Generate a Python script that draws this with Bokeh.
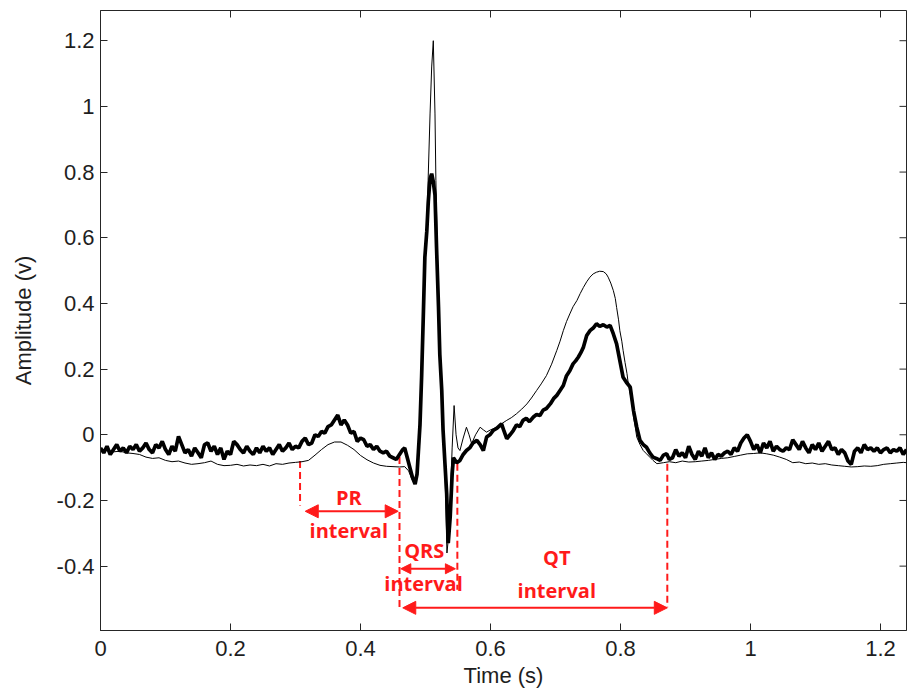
import math
from bokeh.plotting import figure
from bokeh.models import FixedTicker, Range1d, Arrow, NormalHead, ColumnDataSource
from bokeh.core.properties import value
from bokeh.embed import file_html
from bokeh.resources import INLINE

# ---------------- data: noisy (thick) ECG beat ----------------
t_thick = [
    0.000, 0.005, 0.010, 0.015, 0.020, 0.025, 0.030, 0.035, 0.040, 0.045,
    0.050, 0.055, 0.060, 0.065, 0.070, 0.075, 0.080, 0.085, 0.090, 0.095,
    0.100, 0.105, 0.110, 0.115, 0.120, 0.125, 0.130, 0.135, 0.140, 0.145,
    0.150, 0.155, 0.160, 0.165, 0.170, 0.175, 0.180, 0.185, 0.190, 0.195,
    0.200, 0.205, 0.210, 0.215, 0.220, 0.225, 0.230, 0.235, 0.240, 0.245,
    0.250, 0.255, 0.260, 0.265, 0.270, 0.275, 0.280, 0.285, 0.290, 0.295,
    0.300, 0.305, 0.310, 0.315, 0.320, 0.325, 0.330, 0.335, 0.340, 0.345,
    0.350, 0.355, 0.360, 0.365, 0.370, 0.375, 0.380, 0.385, 0.390, 0.395,
    0.400, 0.405, 0.410, 0.415, 0.420, 0.425, 0.430, 0.435, 0.440, 0.445,
    0.450, 0.455, 0.460, 0.465, 0.468, 0.472, 0.476, 0.480, 0.484, 0.487,
    0.4915, 0.494, 0.4966, 0.499, 0.502, 0.5043, 0.507, 0.5095, 0.512, 0.5146,
    0.517, 0.520, 0.522, 0.525, 0.527, 0.530, 0.5326, 0.535, 0.538, 0.541,
    0.543, 0.548, 0.553, 0.558, 0.563, 0.568, 0.573, 0.579, 0.584, 0.589,
    0.594, 0.599, 0.604, 0.610, 0.617, 0.621, 0.625, 0.630, 0.635, 0.640,
    0.645, 0.650, 0.655, 0.660, 0.666, 0.671, 0.676, 0.681, 0.686, 0.692,
    0.697, 0.702, 0.707, 0.712, 0.717, 0.722, 0.727, 0.731, 0.735, 0.739,
    0.743, 0.748, 0.753, 0.758, 0.763, 0.768, 0.7735, 0.779, 0.784, 0.789,
    0.794, 0.799, 0.804, 0.809, 0.815, 0.820, 0.825, 0.830, 0.835, 0.840,
    0.845, 0.850, 0.855, 0.861, 0.866, 0.871, 0.875, 0.880, 0.885, 0.890,
    0.895, 0.900, 0.905, 0.910, 0.915, 0.920, 0.925, 0.930, 0.935, 0.940,
    0.945, 0.950, 0.955, 0.960, 0.965, 0.970, 0.975, 0.980, 0.985, 0.990,
    0.995, 1.000, 1.005, 1.010, 1.015, 1.020, 1.025, 1.030, 1.035, 1.040,
    1.045, 1.050, 1.055, 1.060, 1.065, 1.070, 1.075, 1.080, 1.085, 1.090,
    1.095, 1.100, 1.105, 1.110, 1.115, 1.120, 1.125, 1.130, 1.135, 1.140,
    1.145, 1.150, 1.155, 1.160, 1.165, 1.170, 1.175, 1.180, 1.185, 1.190,
    1.195, 1.200, 1.205, 1.210, 1.215, 1.220, 1.225, 1.230, 1.235, 1.240,
]
v_thick = [
    -0.040, -0.055, -0.035, -0.060, -0.045, -0.030, -0.050, -0.040, -0.055, -0.035,
    -0.045, -0.030, -0.050, -0.040, -0.025, -0.045, -0.055, -0.030, -0.040, -0.020,
    -0.045, -0.060, -0.035, -0.050, -0.005, -0.030, -0.055, -0.045, -0.065, -0.040,
    -0.055, -0.070, -0.030, -0.025, -0.050, -0.035, -0.060, -0.040, -0.075, -0.050,
    -0.060, -0.020, -0.030, -0.045, -0.055, -0.035, -0.050, -0.060, -0.040, -0.055,
    -0.035, -0.050, -0.040, -0.060, -0.045, -0.030, -0.050, -0.040, -0.025, -0.045,
    -0.035, -0.040, -0.020, -0.010, -0.030, -0.025, 0.000, -0.005, 0.010, 0.005,
    0.025, 0.030, 0.045, 0.060, 0.030, 0.045, 0.030, 0.005, 0.010, -0.020,
    -0.010, -0.015, -0.035, -0.030, -0.045, -0.035, -0.050, -0.055, -0.050, -0.065,
    -0.070, -0.075, -0.060, -0.045, -0.040, -0.070, -0.100, -0.130, -0.150, -0.120,
    0.030, 0.175, 0.360, 0.540, 0.620, 0.710, 0.780, 0.795, 0.770, 0.730,
    0.570, 0.390, 0.245, 0.135, 0.015, -0.090, -0.180, -0.330, -0.250, -0.120,
    -0.070, -0.085, -0.078, -0.060, -0.048, -0.040, -0.025, -0.017, -0.030, -0.048,
    -0.007, 0.000, 0.013, 0.020, 0.033, 0.010, -0.012, 0.000, 0.013, 0.030,
    0.025, 0.044, 0.050, 0.040, 0.054, 0.062, 0.059, 0.075, 0.080, 0.094,
    0.110, 0.120, 0.135, 0.150, 0.180, 0.195, 0.216, 0.225, 0.236, 0.250,
    0.267, 0.302, 0.317, 0.325, 0.338, 0.330, 0.335, 0.328, 0.333, 0.307,
    0.277, 0.226, 0.175, 0.160, 0.145, 0.074, 0.023, -0.017, -0.030, -0.038,
    -0.055, -0.068, -0.072, -0.078, -0.062, -0.058, -0.075, -0.070, -0.045, -0.065,
    -0.055, -0.070, -0.035, -0.060, -0.075, -0.050, -0.065, -0.040, -0.070, -0.055,
    -0.075, -0.060, -0.065, -0.055, -0.050, -0.060, -0.040, -0.050, -0.025, -0.010,
    0.000, -0.020, -0.045, -0.030, -0.055, -0.025, -0.040, -0.020, -0.050, -0.035,
    -0.045, -0.050, -0.040, -0.045, -0.015, -0.030, -0.045, -0.020, -0.040, -0.055,
    -0.030, -0.045, -0.025, -0.050, -0.035, -0.020, -0.045, -0.040, -0.060, -0.045,
    -0.055, -0.080, -0.090, -0.050, -0.040, -0.055, -0.030, -0.045, -0.040, -0.050,
    -0.040, -0.055, -0.045, -0.040, -0.055, -0.045, -0.050, -0.040, -0.060, -0.045,
]

# ---------------- data: clean (thin) ECG beat ----------------
t_thin = [
    0.00, 0.01, 0.02, 0.03, 0.04, 0.05, 0.06, 0.07, 0.08, 0.09,
    0.10, 0.11, 0.12, 0.13, 0.14, 0.15, 0.16, 0.17, 0.18, 0.19,
    0.20, 0.21, 0.22, 0.23, 0.24, 0.25, 0.26, 0.27, 0.28, 0.29,
    0.30, 0.31, 0.32, 0.33, 0.34, 0.35, 0.36, 0.37, 0.38, 0.39,
    0.40, 0.41, 0.42, 0.43, 0.44, 0.45, 0.46, 0.468, 0.474, 0.479,
    0.484, 0.487, 0.4915, 0.494, 0.4966, 0.499, 0.502, 0.504, 0.507, 0.5095,
    0.512, 0.5146, 0.516, 0.518, 0.520, 0.522, 0.525, 0.527, 0.530, 0.533,
    0.536, 0.539, 0.541, 0.544, 0.547, 0.550, 0.553, 0.558, 0.563, 0.567,
    0.571, 0.577, 0.584, 0.589, 0.594, 0.600, 0.610, 0.618, 0.625, 0.632,
    0.640, 0.648, 0.656, 0.663, 0.671, 0.678, 0.686, 0.694, 0.702, 0.707,
    0.712, 0.717, 0.722, 0.727, 0.733, 0.738, 0.743, 0.748, 0.753, 0.758,
    0.763, 0.768, 0.7735, 0.778, 0.781, 0.785, 0.789, 0.792, 0.794, 0.797,
    0.799, 0.802, 0.804, 0.807, 0.810, 0.812, 0.815, 0.818, 0.820, 0.823,
    0.825, 0.830, 0.835, 0.840, 0.845, 0.850, 0.856, 0.866, 0.875, 0.885,
    0.895, 0.905, 0.915, 0.925, 0.935, 0.945, 0.955, 0.965, 0.975, 0.985,
    0.995, 1.005, 1.015, 1.025, 1.035, 1.045, 1.055, 1.065, 1.075, 1.085,
    1.095, 1.105, 1.115, 1.125, 1.135, 1.145, 1.155, 1.165, 1.175, 1.185,
    1.195, 1.205, 1.215, 1.225, 1.235, 1.240,
]
v_thin = [
    -0.050, -0.048, -0.052, -0.050, -0.055, -0.057, -0.060, -0.068, -0.072, -0.070,
    -0.078, -0.082, -0.080, -0.086, -0.090, -0.088, -0.085, -0.080, -0.090, -0.094,
    -0.093, -0.090, -0.095, -0.092, -0.094, -0.090, -0.095, -0.088, -0.090, -0.086,
    -0.084, -0.082, -0.078, -0.062, -0.045, -0.030, -0.022, -0.022, -0.032, -0.045,
    -0.063, -0.076, -0.086, -0.093, -0.096, -0.097, -0.098, -0.097, -0.110, -0.135,
    -0.150, -0.120, 0.030, 0.175, 0.360, 0.540, 0.640, 0.774, 0.977, 1.120,
    1.200, 0.977, 0.774, 0.580, 0.390, 0.245, 0.120, 0.000, -0.110, -0.360,
    -0.300, -0.150, -0.040, 0.089, 0.000, -0.040, -0.048, -0.010, 0.023, 0.000,
    -0.027, 0.000, 0.023, 0.015, 0.008, 0.015, 0.023, 0.035, 0.044, 0.052,
    0.064, 0.078, 0.094, 0.112, 0.135, 0.155, 0.180, 0.215, 0.257, 0.285,
    0.317, 0.345, 0.368, 0.390, 0.409, 0.430, 0.449, 0.466, 0.480, 0.490,
    0.495, 0.498, 0.497, 0.490, 0.480, 0.462, 0.439, 0.415, 0.388, 0.350,
    0.317, 0.285, 0.257, 0.220, 0.186, 0.155, 0.125, 0.090, 0.054, 0.020,
    -0.007, -0.030, -0.048, -0.058, -0.068, -0.078, -0.088, -0.085, -0.082, -0.085,
    -0.080, -0.083, -0.082, -0.080, -0.078, -0.075, -0.072, -0.070, -0.066, -0.062,
    -0.058, -0.057, -0.055, -0.058, -0.062, -0.068, -0.075, -0.085, -0.083, -0.088,
    -0.086, -0.090, -0.088, -0.092, -0.094, -0.096, -0.098, -0.097, -0.095, -0.096,
    -0.094, -0.090, -0.088, -0.086, -0.084, -0.085,
]

# ---------------- axes ----------------
x_start, x_end = 0.0, 1.240
y_start, y_end = -0.596, 1.292
x_ticks = [0.0, 0.2, 0.4, 0.6, 0.8, 1.0, 1.2]
x_tick_labels = ["0", "0.2", "0.4", "0.6", "0.8", "1", "1.2"]
y_ticks = [-0.4, -0.2, 0.0, 0.2, 0.4, 0.6, 0.8, 1.0, 1.2]
y_tick_labels = ["-0.4", "-0.2", "0", "0.2", "0.4", "0.6", "0.8", "1", "1.2"]

# ---------------- interval annotations ----------------
guide_x = [0.307, 0.460, 0.549, 0.872]
guide_top = [-0.080, -0.068, -0.088, -0.088]
guide_bottom = [-0.215, -0.530, -0.472, -0.525]

big_arrow_x0 = [0.315, 0.465]      # PR, QT
big_arrow_x1 = [0.458, 0.872]
big_arrow_y = [-0.233, -0.527]
qrs_arrow_x0 = [0.462]
qrs_arrow_x1 = [0.546]
qrs_arrow_y = [-0.408]

label_text = ["PR", "interval", "QRS", "interval", "QT", "interval"]
label_x = [0.382, 0.382, 0.498, 0.497, 0.702, 0.702]
label_y = [-0.190, -0.291, -0.352, -0.452, -0.373, -0.474]

RED = "#ff1a1a"
AXIS = "#262626"

p = figure(width=907, height=693,
           x_range=Range1d(x_start, x_end), y_range=Range1d(y_start, y_end),
           output_backend="svg", toolbar_location=None,
           min_border_left=100, min_border_right=1, min_border_top=10, min_border_bottom=63)

p.background_fill_color = "white"
p.border_fill_color = "white"
p.outline_line_color = AXIS
p.outline_line_width = 1
p.grid.visible = False

def style_axis(ax, ticks, labels):
    ax.ticker = FixedTicker(ticks=ticks)
    ax.major_label_overrides = {t: l for t, l in zip(ticks, labels)}
    ax.major_tick_in = 7
    ax.major_tick_out = 0
    ax.minor_tick_line_color = None
    ax.major_tick_line_color = AXIS
    ax.axis_line_color = AXIS
    ax.major_label_text_font = "Liberation Sans"
    ax.major_label_text_font_size = "22px"
    ax.major_label_text_color = "#1e1e1e"
    ax.axis_label_text_font = "Liberation Sans"
    ax.axis_label_text_font_size = "22px"
    ax.axis_label_text_font_style = "normal"
    ax.axis_label_text_color = "#1e1e1e"

style_axis(p.xaxis[0], x_ticks, x_tick_labels)
style_axis(p.yaxis[0], y_ticks, y_tick_labels)
p.xaxis[0].axis_label = "Time (s)"
p.xaxis[0].major_label_standoff = 10
p.xaxis[0].axis_label_standoff = 4
p.yaxis[0].axis_label = "Amplitude (v)"
p.yaxis[0].major_label_standoff = 6
p.yaxis[0].axis_label_standoff = 18

# mirrored inward ticks on the top and right edges of the box
p.scatter(x=x_ticks, y=[y_end] * len(x_ticks), marker="dash", angle=math.pi / 2,
          size=14, line_color=AXIS, line_width=1)
p.scatter(x=[x_end] * len(y_ticks), y=y_ticks, marker="dash",
          size=14, line_color=AXIS, line_width=1)

# dashed interval guides
p.segment(x0=guide_x, y0=guide_top, x1=guide_x, y1=guide_bottom,
          line_color=RED, line_width=2, line_dash="7 4")

# traces
p.line(t_thin, v_thin, line_color="black", line_width=1)
p.line(t_thick, v_thick, line_color="black", line_width=3.7)

# arrows
big_src = ColumnDataSource(dict(x0=big_arrow_x0, x1=big_arrow_x1, y=big_arrow_y))
p.add_layout(Arrow(source=big_src, x_start="x0", y_start="y", x_end="x1", y_end="y",
                   line_color=RED, line_width=2,
                   start=NormalHead(size=13, fill_color=RED, line_color=RED),
                   end=NormalHead(size=13, fill_color=RED, line_color=RED)))
qrs_src = ColumnDataSource(dict(x0=qrs_arrow_x0, x1=qrs_arrow_x1, y=qrs_arrow_y))
p.add_layout(Arrow(source=qrs_src, x_start="x0", y_start="y", x_end="x1", y_end="y",
                   line_color=RED, line_width=2,
                   start=NormalHead(size=10, fill_color=RED, line_color=RED),
                   end=NormalHead(size=10, fill_color=RED, line_color=RED)))

# labels
p.text(x=label_x, y=label_y, text=label_text,
       text_font=value("Open Sans"), text_font_style="bold", text_font_size="20px",
       text_color=RED, text_align="center", text_baseline="middle")

open("out.html", "w").write(file_html(p, INLINE))
